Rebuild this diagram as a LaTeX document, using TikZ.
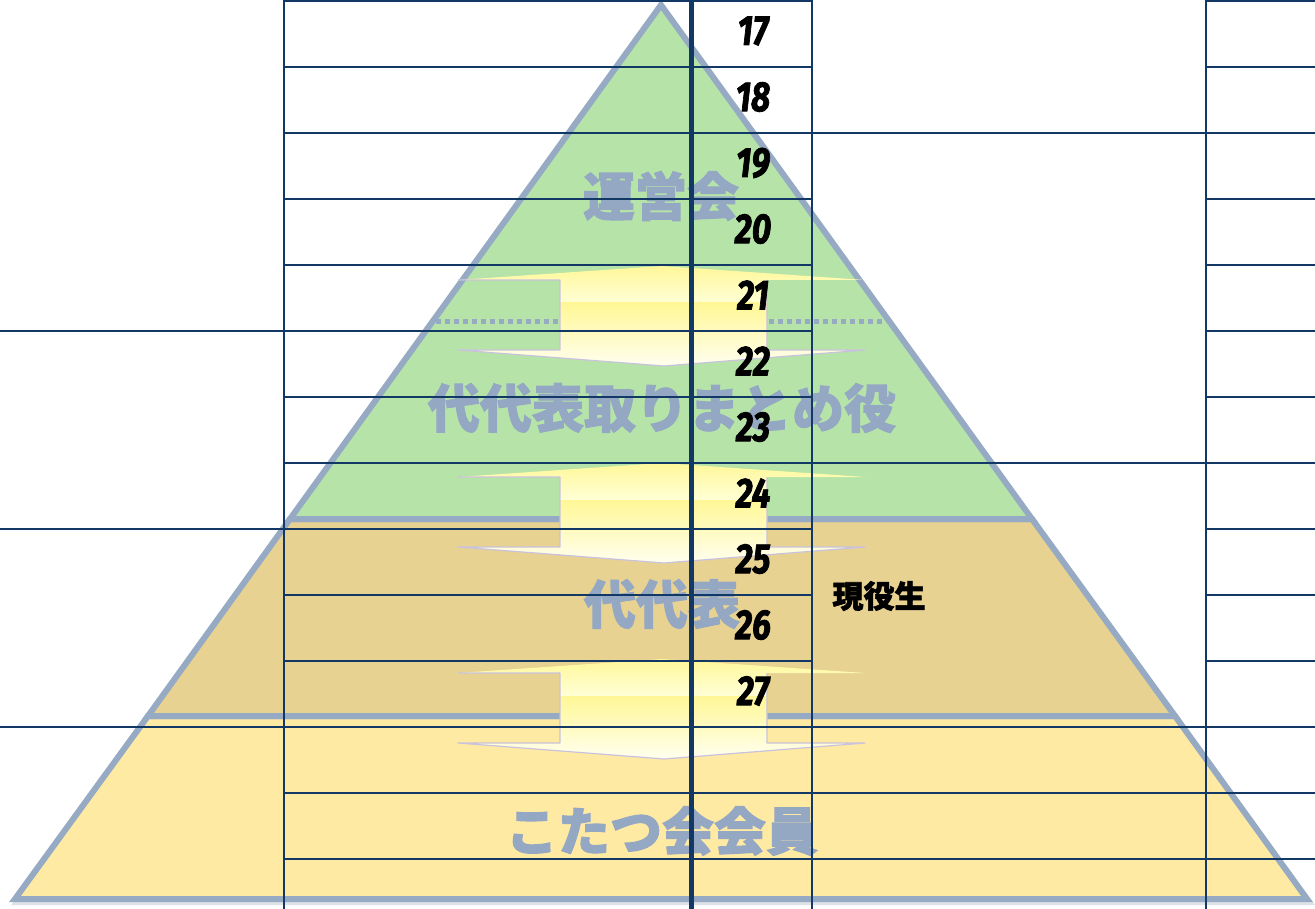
\documentclass[tikz,border=0pt]{standalone}
\usepackage{fontspec}
\newfontfamily\jpfont{Noto Sans CJK JP}[FakeBold=2]
\newfontfamily\numfont{Fira Sans}[FakeBold=2]
\definecolor{gridc}{RGB}{18,56,102}
\definecolor{edgec}{RGB}{150,170,196}
\definecolor{greenc}{RGB}{182,228,168}
\definecolor{tanc}{RGB}{232,210,146}
\definecolor{yelc}{RGB}{255,234,164}
\definecolor{labc}{RGB}{148,168,196}
\definecolor{ya}{RGB}{255,247,150}
\definecolor{yb}{RGB}{255,255,214}
\definecolor{yc}{RGB}{255,247,150}
\definecolor{yd}{RGB}{255,255,242}
\definecolor{arredge}{RGB}{200,194,220}
\definecolor{shadowc}{RGB}{200,205,215}
\tikzset{
  tier/.style={draw=edgec, line width=6pt, line join=miter},
  tiershadow/.style={draw=shadowc, line width=6pt, line join=miter, opacity=0.6},
  tierlbl/.style={inner sep=0pt, text=labc, font=\jpfont\bfseries\fontsize{52}{52}\selectfont},
  numlbl/.style={inner sep=0pt, text=black, font=\numfont\bfseries\itshape\fontsize{42}{42}\selectfont},
  gridline/.style={draw=gridc, line width=2.5pt},
  thickgrid/.style={draw=gridc, line width=5pt},
  arrowedge/.style={draw=arredge, line width=1.2pt, line join=round},
  yarrow/.pic={
    \begin{scope}
      \clip (458,14) -- (662,0) -- (865,14) -- (767,14) -- (767,84) -- (865,84) -- (664,100) -- (458,84) -- (560,84) -- (560,14) -- cycle;
      \shade[top color=ya, bottom color=yb] (450,-2) rectangle (870,37);
      \shade[top color=yc, bottom color=yd] (450,37) rectangle (870,102);
    \end{scope}
    \draw[arrowedge] (458,14) -- (560,14) -- (560,84) -- (458,84) -- (664,100) -- (865,84) -- (767,84) -- (767,14);
  }
}
\begin{document}
\begin{tikzpicture}[x=1pt,y=-1pt]
\useasboundingbox (0,0) rectangle (1315,909);
\fill[white] (0,0) rectangle (1315,909);
% pyramid tier shadows
\begin{scope}[shift={(2,3)}]
\draw[tiershadow] (148,716) -- (1175,716) -- (1307,899) -- (15,899) -- cycle;
\draw[tiershadow] (290,519) -- (1032,519) -- (1175,716) -- (148,716) -- cycle;
\end{scope}
% pyramid tiers
\draw[tier, fill=yelc] (148,716) -- (1175,716) -- (1307,899) -- (15,899) -- cycle;
\draw[tier, fill=tanc] (290,519) -- (1032,519) -- (1175,716) -- (148,716) -- cycle;
\draw[tier, fill=greenc] (661,5) -- (1032,519) -- (290,519) -- cycle;
% tier labels
\node[tierlbl] (unei) at (661,196) {運営会};
\node[tierlbl] (torimatome) at (662,408) {代代表取りまとめ役};
\node[tierlbl] (daidai) at (662,604) {代代表};
\node[tierlbl] (kaiin) at (662,831) {こたつ会会員};
% dotted separator
\draw[edgec, line width=5pt, dash pattern=on 5pt off 4pt] (436,322) -- (886,322);
% arrows
\pic at (0,266) {yarrow};
\pic at (0,463) {yarrow};
\pic at (0,659) {yarrow};
% grid
\foreach \k in {0,...,13} {
  \draw[gridline] (284,{66*\k+1}) -- (812,{66*\k+1});
  \draw[gridline] (1206,{66*\k+1}) -- (1315,{66*\k+1});
}
\foreach \k in {5,8,11} \draw[gridline] (0,{66*\k+1}) -- (284,{66*\k+1});
\foreach \k in {2,7,11,12,13} \draw[gridline] (812,{66*\k+1}) -- (1206,{66*\k+1});
\draw[gridline] (284,0) -- (284,909);
\draw[gridline] (812,0) -- (812,909);
\draw[gridline] (1206,0) -- (1206,909);
\draw[thickgrid] (691,0) -- (691,909);
% numbers
\foreach \n [count=\i from 0] in {17,...,27}
  \node[numlbl] (n\n) at (753,{31+66*\i}) {\scalebox{0.8}[1]{\n}};
\node[inner sep=0pt, font=\jpfont\bfseries\fontsize{31}{31}\selectfont] (geneki) at (879,596) {現役生};
\end{tikzpicture}
\end{document}
